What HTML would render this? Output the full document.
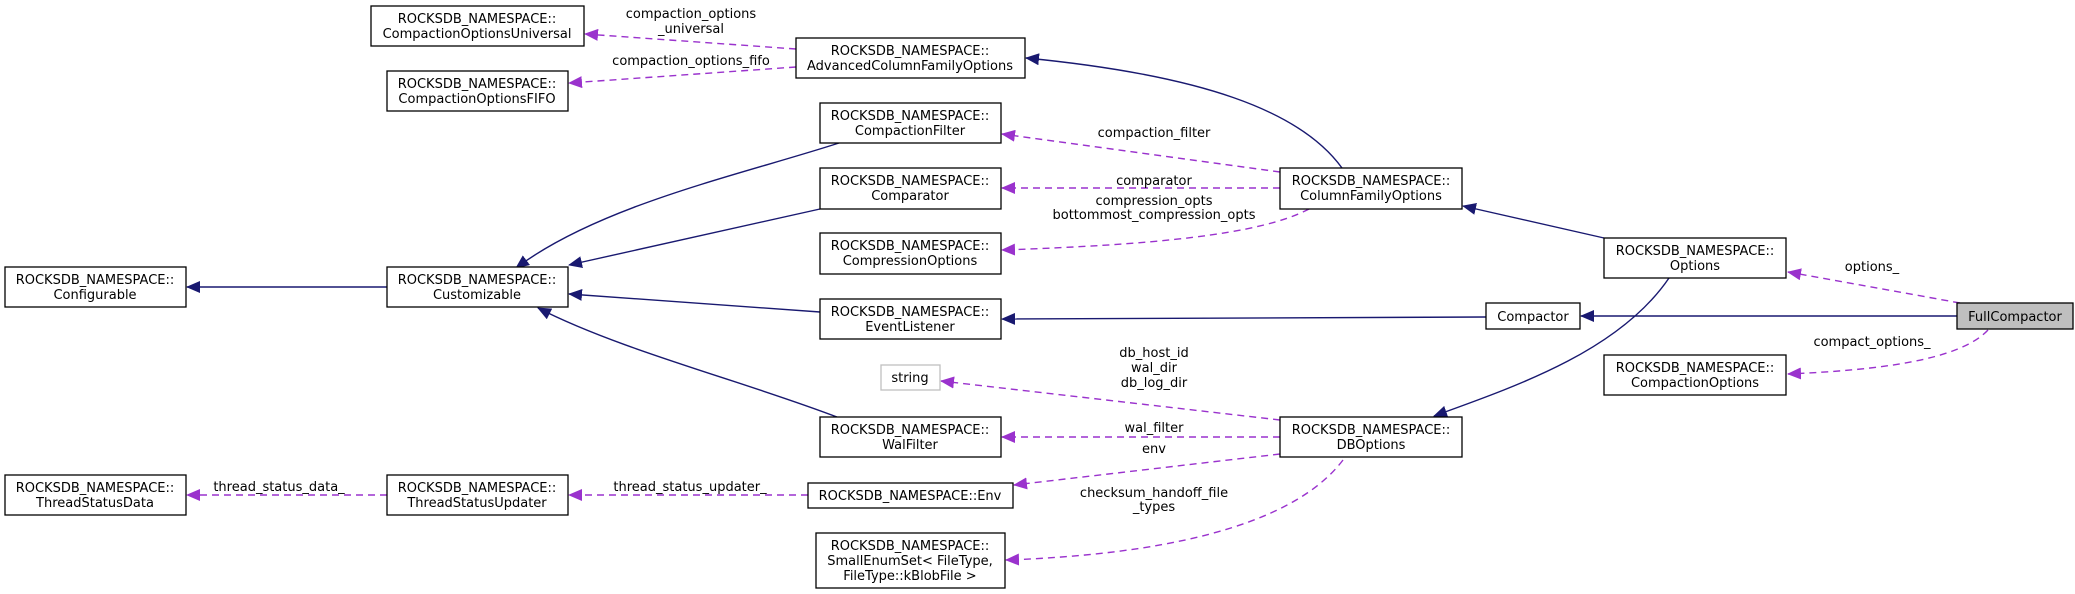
<!DOCTYPE html>
<html><head><meta charset="utf-8"><style>
html,body{margin:0;padding:0;background:#fff;}
svg{display:block;}
text{font-family:"DejaVu Sans","Liberation Sans",sans-serif;font-size:13px;fill:#000;}
.b{fill:#fff;stroke:#000;stroke-width:1.3;}
.s{fill:none;stroke:#191970;stroke-width:1.4;}
.d{fill:none;stroke:#9a32cd;stroke-width:1.4;stroke-dasharray:7,5;}
</style></head><body>
<svg width="2075" height="594" viewBox="0 0 2075 594" xmlns="http://www.w3.org/2000/svg">
<defs>
<marker id="ms" markerWidth="14" markerHeight="12" refX="13" refY="6" orient="auto" markerUnits="userSpaceOnUse"><path d="M0,0 L14,6 L0,12 z" fill="#191970"/></marker>
<marker id="md" markerWidth="14" markerHeight="12" refX="13" refY="6" orient="auto" markerUnits="userSpaceOnUse"><path d="M0,0 L14,6 L0,12 z" fill="#9a32cd"/></marker>
</defs>
<!-- solid edges -->
<path class="s" marker-end="url(#ms)" d="M1604,238 L1463,206"/>
<path class="s" marker-end="url(#ms)" d="M1342,168 C1300,110 1200,75 1026,58"/>
<path class="s" marker-end="url(#ms)" d="M1669,278 C1620,350 1520,385 1434,416"/>
<path class="s" marker-end="url(#ms)" d="M1957,316 L1581,316"/>
<path class="s" marker-end="url(#ms)" d="M1486,317 L1002,319"/>
<path class="s" marker-end="url(#ms)" d="M839,143 C740,175 600,205 516,268"/>
<path class="s" marker-end="url(#ms)" d="M820,209 L569,265"/>
<path class="s" marker-end="url(#ms)" d="M820,312 L569,294"/>
<path class="s" marker-end="url(#ms)" d="M837,417 C740,380 620,350 538,308"/>
<path class="s" marker-end="url(#ms)" d="M387,287 L187,287"/>
<!-- dashed edges -->
<path class="d" marker-end="url(#md)" d="M1960,303 L1788,272"/>
<path class="d" marker-end="url(#md)" d="M1988,330 C1960,360 1880,370 1788,374"/>
<path class="d" marker-end="url(#md)" d="M796,49 L585,34"/>
<path class="d" marker-end="url(#md)" d="M796,67 L569,83"/>
<path class="d" marker-end="url(#md)" d="M1280,172 L1002,134"/>
<path class="d" marker-end="url(#md)" d="M1280,188 L1002,188"/>
<path class="d" marker-end="url(#md)" d="M1309,209 C1260,235 1150,245 1002,250"/>
<path class="d" marker-end="url(#md)" d="M1280,420 L941,381"/>
<path class="d" marker-end="url(#md)" d="M1280,437 L1002,437"/>
<path class="d" marker-end="url(#md)" d="M1280,454 L1014,485"/>
<path class="d" marker-end="url(#md)" d="M1343,460 C1290,530 1150,555 1006,560"/>
<path class="d" marker-end="url(#md)" d="M808,495 L569,495"/>
<path class="d" marker-end="url(#md)" d="M387,495 L187,495"/>
<!-- edge labels -->
<g text-anchor="middle">
<text x="691" y="18">compaction_options</text>
<text x="691" y="33">_universal</text>
<text x="691" y="65">compaction_options_fifo</text>
<text x="1154" y="137">compaction_filter</text>
<text x="1154" y="185">comparator</text>
<text x="1154" y="205">compression_opts</text>
<text x="1154" y="219">bottommost_compression_opts</text>
<text x="1872" y="271">options_</text>
<text x="1872" y="346">compact_options_</text>
<text x="1154" y="357">db_host_id</text>
<text x="1154" y="372">wal_dir</text>
<text x="1154" y="387">db_log_dir</text>
<text x="1154" y="432">wal_filter</text>
<text x="1154" y="453">env</text>
<text x="1154" y="497">checksum_handoff_file</text>
<text x="1154" y="511">_types</text>
<text x="279" y="491">thread_status_data_</text>
<text x="690" y="491">thread_status_updater_</text>
</g>
<!-- nodes -->
<g text-anchor="middle">
<rect class="b" x="371" y="6" width="213" height="40"/><text x="477" y="23">ROCKSDB_NAMESPACE::</text><text x="477" y="38">CompactionOptionsUniversal</text>
<rect class="b" x="387" y="71" width="181" height="40"/><text x="477" y="88">ROCKSDB_NAMESPACE::</text><text x="477" y="103">CompactionOptionsFIFO</text>
<rect class="b" x="796" y="38" width="229" height="40"/><text x="910" y="55">ROCKSDB_NAMESPACE::</text><text x="910" y="70">AdvancedColumnFamilyOptions</text>
<rect class="b" x="820" y="103" width="181" height="40"/><text x="910" y="120">ROCKSDB_NAMESPACE::</text><text x="910" y="135">CompactionFilter</text>
<rect class="b" x="820" y="168" width="181" height="41"/><text x="910" y="185">ROCKSDB_NAMESPACE::</text><text x="910" y="200">Comparator</text>
<rect class="b" x="820" y="233" width="181" height="41"/><text x="910" y="250">ROCKSDB_NAMESPACE::</text><text x="910" y="265">CompressionOptions</text>
<rect class="b" x="5" y="267" width="181" height="40"/><text x="95" y="284">ROCKSDB_NAMESPACE::</text><text x="95" y="299">Configurable</text>
<rect class="b" x="387" y="267" width="181" height="40"/><text x="477" y="284">ROCKSDB_NAMESPACE::</text><text x="477" y="299">Customizable</text>
<rect class="b" x="820" y="299" width="181" height="40"/><text x="910" y="316">ROCKSDB_NAMESPACE::</text><text x="910" y="331">EventListener</text>
<rect x="881" y="365" width="59" height="25" fill="#fff" stroke="#bfbfbf" stroke-width="1.3"/><text x="910" y="382">string</text>
<rect class="b" x="820" y="417" width="181" height="40"/><text x="910" y="434">ROCKSDB_NAMESPACE::</text><text x="910" y="449">WalFilter</text>
<rect class="b" x="5" y="475" width="181" height="40"/><text x="95" y="492">ROCKSDB_NAMESPACE::</text><text x="95" y="507">ThreadStatusData</text>
<rect class="b" x="387" y="475" width="181" height="40"/><text x="477" y="492">ROCKSDB_NAMESPACE::</text><text x="477" y="507">ThreadStatusUpdater</text>
<rect class="b" x="808" y="483" width="205" height="25"/><text x="910" y="500">ROCKSDB_NAMESPACE::Env</text>
<rect class="b" x="816" y="533" width="189" height="55"/><text x="910" y="550">ROCKSDB_NAMESPACE::</text><text x="910" y="565">SmallEnumSet&lt; FileType,</text><text x="910" y="580">FileType::kBlobFile &gt;</text>
<rect class="b" x="1280" y="168" width="182" height="41"/><text x="1371" y="185">ROCKSDB_NAMESPACE::</text><text x="1371" y="200">ColumnFamilyOptions</text>
<rect class="b" x="1604" y="238" width="182" height="40"/><text x="1695" y="255">ROCKSDB_NAMESPACE::</text><text x="1695" y="270">Options</text>
<rect class="b" x="1604" y="355" width="182" height="40"/><text x="1695" y="372">ROCKSDB_NAMESPACE::</text><text x="1695" y="387">CompactionOptions</text>
<rect class="b" x="1280" y="417" width="182" height="40"/><text x="1371" y="434">ROCKSDB_NAMESPACE::</text><text x="1371" y="449">DBOptions</text>
<rect class="b" x="1486" y="303" width="94" height="26"/><text x="1533" y="321">Compactor</text>
<rect x="1957" y="303" width="116" height="26" fill="#bfbfbf" stroke="#000" stroke-width="1.3"/><text x="2015" y="321">FullCompactor</text>
</g>
</svg>
</body></html>
